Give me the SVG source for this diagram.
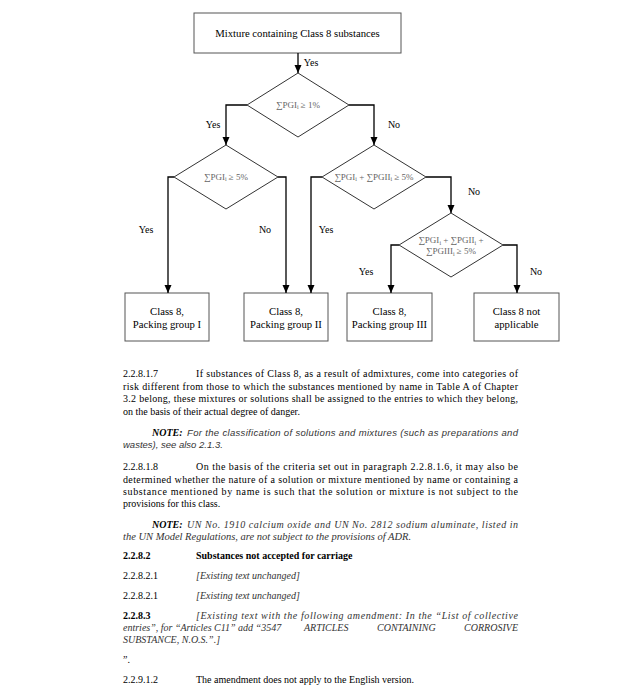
<svg xmlns="http://www.w3.org/2000/svg" width="639" height="694" viewBox="0 0 639 694">
<defs>
<marker id="ah" markerWidth="9" markerHeight="9" refX="8" refY="4" orient="auto" markerUnits="userSpaceOnUse">
<path d="M0,0.5 L8,4 L0,7.5 Z" fill="#000"/>
</marker>
<style>
.box{fill:#fff;stroke:#555;stroke-width:1}
.dia{fill:#fff;stroke:#333;stroke-width:1}
.con{fill:none;stroke:#000;stroke-width:1.3}
.arr{marker-end:url(#ah)}
.t{font-family:"Liberation Serif","Times New Roman",serif;font-size:10px;fill:#000}
.lbl{font-family:"Liberation Serif","Times New Roman",serif;font-size:10px;fill:#000;text-anchor:middle}
.bl{font-size:10.7px}
.dt{font-family:"Liberation Serif","Times New Roman",serif;font-size:9px;fill:#666;text-anchor:middle}
.b{font-weight:bold}
.i{font-style:italic}
.ni{font-family:"Liberation Sans",Arial,sans-serif;font-style:italic;font-size:9.5px;fill:#333}
.ti{font-style:italic;fill:#333}
.sub{font-size:6px}
</style>
</defs>
<rect width="639" height="694" fill="#fff"/>

<g id="start">
<rect class="box" x="194" y="13" width="207" height="40"/>
<text class="lbl bl" x="297.5" y="36.5">Mixture containing Class 8 substances</text>
</g>

<g id="d1">
<polygon class="dia" points="298,73 349,105 298,137 247,105"/>
<text class="dt" x="298" y="107.5">∑PGI<tspan class="sub" dy="1.5">i</tspan><tspan dy="-1.5"> ≥ 1%</tspan></text>
</g>

<g id="d2">
<polygon class="dia" points="226,145 278,177 226,209 174,177"/>
<text class="dt" x="226" y="179.5">∑PGI<tspan class="sub" dy="1.5">i</tspan><tspan dy="-1.5"> ≥ 5%</tspan></text>
</g>

<g id="d3">
<polygon class="dia" points="374,145 426,177 374,209 322,177"/>
<text class="dt" x="374" y="179.5">∑PGI<tspan class="sub" dy="1.5">i</tspan><tspan dy="-1.5"> + ∑PGII</tspan><tspan class="sub" dy="1.5">i</tspan><tspan dy="-1.5"> ≥ 5%</tspan></text>
</g>

<g id="d4">
<polygon class="dia" points="451,213 503,245 451,277 399,245"/>
<text class="dt" x="451" y="243">∑PGI<tspan class="sub" dy="1.5">i</tspan><tspan dy="-1.5"> + ∑PGII</tspan><tspan class="sub" dy="1.5">i</tspan><tspan dy="-1.5"> +</tspan></text>
<text class="dt" x="451" y="254">∑PGIII<tspan class="sub" dy="1.5">i</tspan><tspan dy="-1.5"> ≥ 5%</tspan></text>
</g>

<g id="pg1">
<rect class="box" x="125" y="293" width="84" height="48"/>
<text class="lbl bl" x="167" y="315">Class 8,</text>
<text class="lbl bl" x="167" y="328">Packing group I</text>
</g>
<g id="pg2">
<rect class="box" x="244" y="293" width="84" height="48"/>
<text class="lbl bl" x="286" y="315">Class 8,</text>
<text class="lbl bl" x="286" y="328">Packing group II</text>
</g>
<g id="pg3">
<rect class="box" x="347" y="293" width="85" height="48"/>
<text class="lbl bl" x="389.5" y="315">Class 8,</text>
<text class="lbl bl" x="389.5" y="328">Packing group III</text>
</g>
<g id="na">
<rect class="box" x="474" y="293" width="85" height="48"/>
<text class="lbl bl" x="516.5" y="315">Class 8 not</text>
<text class="lbl bl" x="516.5" y="328">applicable</text>
</g>

<g id="connectors">
<path class="con arr" d="M298,53 V73"/>
<path class="con arr" d="M247,105 H226 V145"/>
<path class="con arr" d="M349,105 H374 V145"/>
<path class="con arr" d="M174,177 H168 V293"/>
<path class="con arr" d="M278,177 H286 V293"/>
<path class="con arr" d="M322,177 H311 V293"/>
<path class="con arr" d="M426,177 H451 V213"/>
<path class="con arr" d="M399,245 H391 V293"/>
<path class="con arr" d="M503,245 H517 V293"/>
<text class="lbl" x="311" y="66">Yes</text>
<text class="lbl" x="213" y="128">Yes</text>
<text class="lbl" x="394" y="128">No</text>
<text class="lbl" x="146" y="233">Yes</text>
<text class="lbl" x="265" y="233">No</text>
<text class="lbl" x="326" y="233">Yes</text>
<text class="lbl" x="474" y="195">No</text>
<text class="lbl" x="366" y="275">Yes</text>
<text class="lbl" x="536" y="275">No</text>
</g>

<g id="body">
<text class="t" x="123" y="377">2.2.8.1.7</text>
<text class="t" x="196" y="377" textLength="322" lengthAdjust="spacing">If substances of Class 8, as a result of admixtures, come into categories of</text>
<text class="t" x="123" y="390" textLength="395" lengthAdjust="spacing">risk different from those to which the substances mentioned by name in Table A of Chapter</text>
<text class="t" x="123" y="402" textLength="395" lengthAdjust="spacing">3.2 belong, these mixtures or solutions shall be assigned to the entries to which they belong,</text>
<text class="t" x="123" y="415">on the basis of their actual degree of danger.</text>

<text class="t" x="152" y="436"><tspan class="b i">NOTE:</tspan></text>
<text class="ni" x="187" y="436" textLength="331" lengthAdjust="spacing">For the classification of solutions and mixtures (such as preparations and</text>
<text class="ni" x="123" y="448">wastes), see also 2.1.3.</text>

<text class="t" x="123" y="470">2.2.8.1.8</text>
<text class="t" x="196" y="470" textLength="322" lengthAdjust="spacing">On the basis of the criteria set out in paragraph 2.2.8.1.6, it may also be</text>
<text class="t" x="123" y="483" textLength="395" lengthAdjust="spacing">determined whether the nature of a solution or mixture mentioned by name or containing a</text>
<text class="t" x="123" y="495" textLength="395" lengthAdjust="spacing">substance mentioned by name is such that the solution or mixture is not subject to the</text>
<text class="t" x="123" y="507">provisions for this class.</text>

<text class="t" x="152" y="528"><tspan class="b i">NOTE:</tspan></text>
<text class="t ti" x="187" y="528" textLength="331" lengthAdjust="spacing">UN No. 1910 calcium oxide and UN No. 2812 sodium aluminate, listed in</text>
<text class="t ti" x="123" y="540" style="font-size:10.5px">the UN Model Regulations, are not subject to the provisions of ADR.</text>

<text class="t b" x="123" y="559">2.2.8.2</text>
<text class="t b" x="196" y="559">Substances not accepted for carriage</text>

<text class="t" x="123" y="579">2.2.8.2.1</text>
<text class="t ti" x="196" y="579">[Existing text unchanged]</text>
<text class="t" x="123" y="599">2.2.8.2.1</text>
<text class="t ti" x="196" y="599">[Existing text unchanged]</text>

<text class="t b" x="123" y="619">2.2.8.3</text>
<text class="t ti" x="196" y="619" textLength="322" lengthAdjust="spacing">[Existing text with the following amendment: In the “List of collective</text>
<text class="t ti" x="123" y="631">entries”, for “Articles C11” add “3547</text>
<text class="t ti" x="304" y="631">ARTICLES</text>
<text class="t ti" x="377" y="631">CONTAINING</text>
<text class="t ti" x="518" y="631" text-anchor="end">CORROSIVE</text>
<text class="t ti" x="123" y="643">SUBSTANCE, N.O.S.”.]</text>

<text class="t" x="123" y="663">”.</text>

<text class="t" x="123" y="683">2.2.9.1.2</text>
<text class="t" x="196" y="683">The amendment does not apply to the English version.</text>
</g>
</svg>
